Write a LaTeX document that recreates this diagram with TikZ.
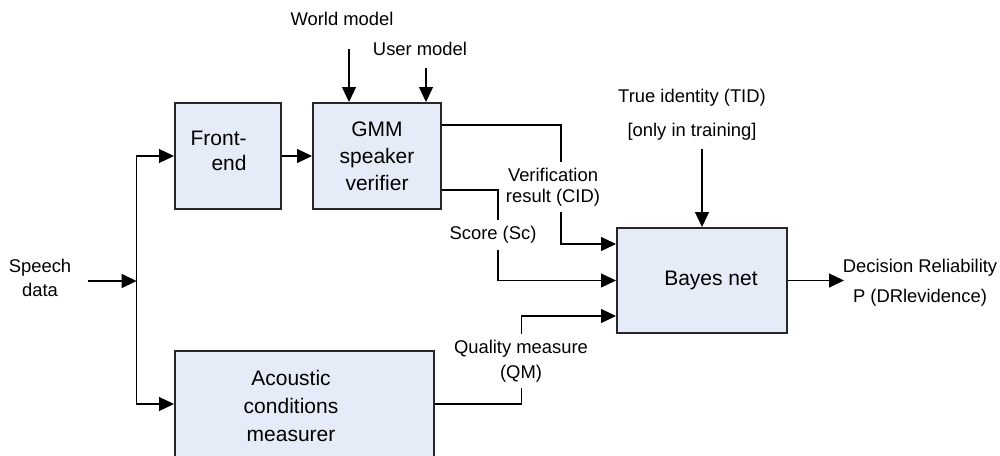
\documentclass[tikz,border=0pt]{standalone}
\usepackage{fontspec}
\setmainfont{Liberation Sans}
\usetikzlibrary{arrows.meta,calc}
\definecolor{boxfill}{HTML}{E5ECF7}
\definecolor{boxline}{HTML}{262626}
\begin{document}
\begin{tikzpicture}[x=0.5pt,y=-0.5pt,
  block/.style={draw=boxline, line width=1pt, fill=boxfill, inner sep=0pt},
  boxtxt/.style={font=\fontsize{10.5}{13.5}\selectfont, align=center, inner sep=0pt},
  lbl/.style={font=\fontsize{9.2}{11}\selectfont, align=center, inner sep=0pt},
  cover/.style={lbl, fill=white, inner xsep=1pt, inner ysep=3pt},
  wire/.style={line width=0.65pt, draw=black},
  arr/.style={wire, -{Triangle[length=7.5pt,width=7pt]}}]

\useasboundingbox (0,0) rectangle (1000,455);
\clip (0,0) rectangle (1000,455);

% processing blocks
\node[block, minimum width=53pt, minimum height=53pt] (fe) at (228,156) {};
\node[boxtxt, align=right, anchor=east, font=\fontsize{10.5}{12.5}\selectfont] (fetxt) at (247,151) {Front-\\end};
\node[block, boxtxt, minimum width=64pt, minimum height=53pt] (gmm) at (377,156) {GMM\\speaker\\verifier};
\node[block, minimum width=85pt, minimum height=52.5pt] (bayes) at (702,280.5) {};
\node[boxtxt] (bayestxt) at (711,280) {Bayes net};
\node[block, minimum width=129.5pt, minimum height=53pt] (acm) at (304.5,404) {};
\node[boxtxt, font=\fontsize{10.5}{14}\selectfont] (acmtxt) at (291,406) {Acoustic\\conditions\\measurer};

% inputs
\node[lbl, font=\fontsize{9.2}{12}\selectfont] (speech) at (40,278) {Speech\\data};
\node[lbl] (wm) at (342,19) {World model};
\node[lbl] (um) at (420,49) {User model};
\node[lbl, font=\fontsize{9.2}{17}\selectfont] (tid) at (692,115) {True identity (TID)\\{[only in training]}};
\node[lbl, font=\fontsize{9.2}{15}\selectfont] (dr) at (920,283) {Decision Reliability\\P (DRlevidence)};

% connector ends and bends
\coordinate (bus) at (136.6,281);
\coordinate (wmtail) at (349,49);
\coordinate (umtail) at (426,68);
\coordinate (tidtail) at (702,149);
\coordinate (cidA) at (561,125);
\coordinate (cidB) at (561,244);
\coordinate (scA) at (498,190);
\coordinate (qmA) at (521.6,316);
\coordinate (outtip) at (844,280.5);

% speech data distribution
\draw[arr] ([xshift=8pt]speech.east |- bus) -- (bus);
\draw[arr] (bus) |- (fe.west);
\draw[arr] (bus) |- (acm.west);
\draw[arr] (fe) -- (gmm);

% model inputs
\draw[arr] (wmtail) -- (wmtail |- gmm.north);
\draw[arr] (umtail) -- (umtail |- gmm.north);
\draw[arr] (tidtail) -- (bayes.north);

% evidence into the Bayes net
\draw[arr] (gmm.east |- cidA) -- (cidA) -- (cidB) -- (bayes.west |- cidB);
\draw[arr] (gmm.east |- scA) -- (scA) |- (bayes.west);
\draw[arr] (acm.east) -| (qmA) -- (bayes.west |- qmA);
\draw[arr] (bayes.east) -- (outtip);

% connector labels
\node[cover, font=\fontsize{9.2}{10.5}\selectfont] (cid) at (553,187) {Verification\\result (CID)};
\node[cover] (sc) at (493,235) {Score (Sc)};
\node[cover, font=\fontsize{9.2}{12.5}\selectfont] (qm) at (521,361) {Quality measure\\(QM)};
\end{tikzpicture}
\end{document}
